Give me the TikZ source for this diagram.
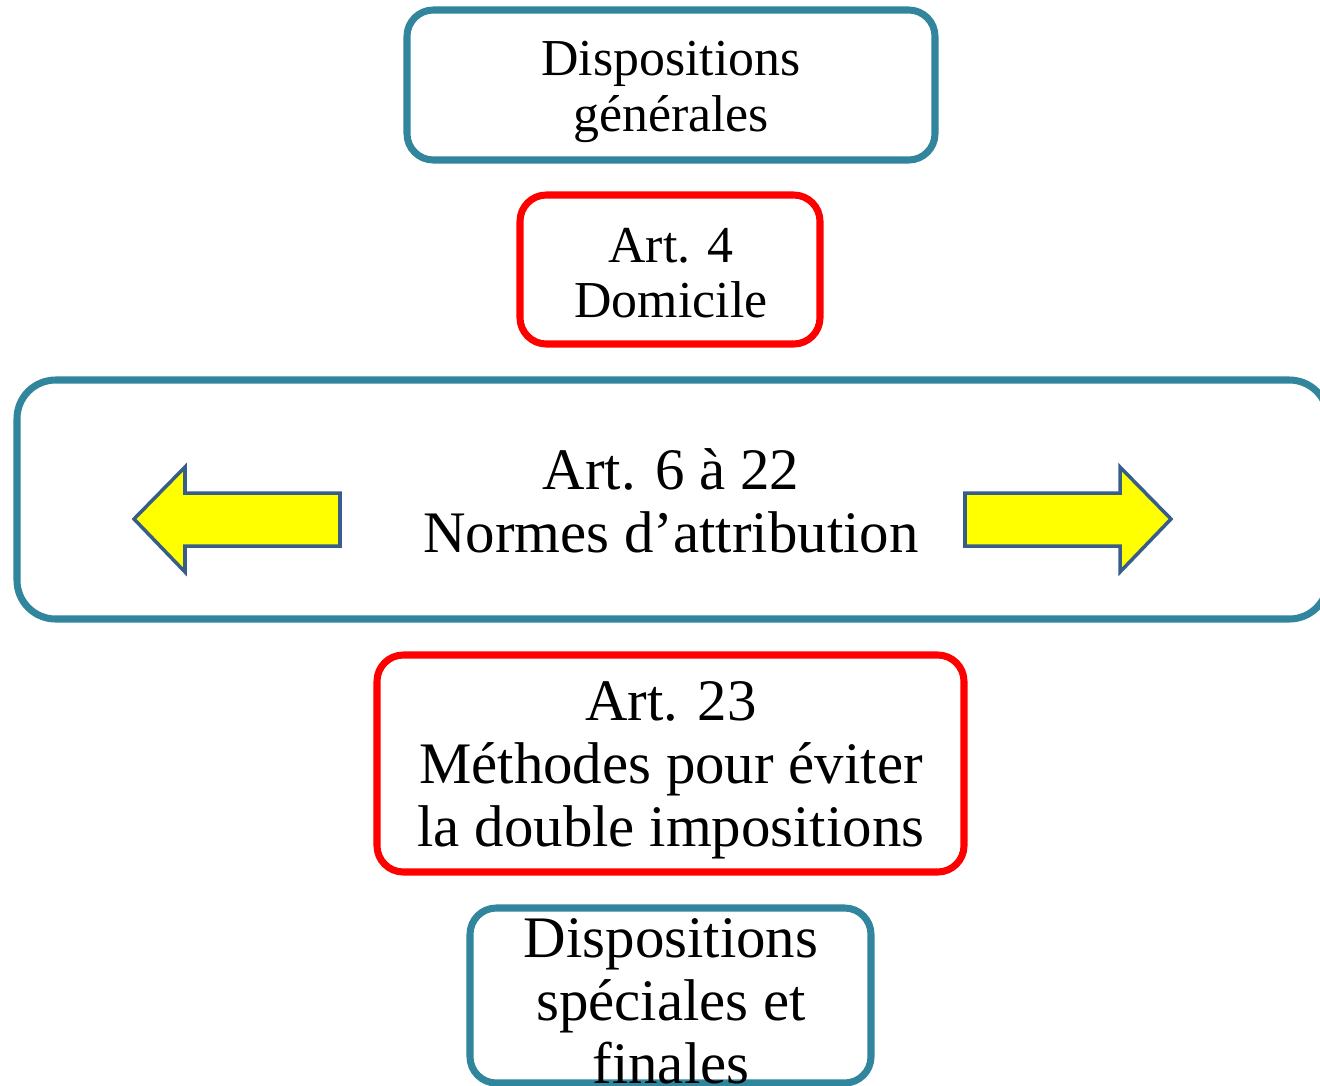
\documentclass[tikz,border=0pt]{standalone}
\usepackage{fontspec}
\setmainfont{Liberation Serif}
\definecolor{teal1}{HTML}{31859C}
\definecolor{red1}{HTML}{FF0000}
\definecolor{arrowedge}{HTML}{385D8A}
\definecolor{arrowfill}{HTML}{FFFF00}
\tikzset{
  boxT/.style={draw=teal1, line width=4pt, rounded corners=15pt},
  boxR/.style={draw=red1, line width=4pt, rounded corners=15pt},
  lbl/.style={align=center, inner sep=0pt, font=\fontsize{33.5}{35.9}\selectfont},
  lbls/.style={align=center, inner sep=0pt, font=\fontsize{29.5}{31.4}\selectfont},
  bigarrow/.style={draw=arrowedge, fill=arrowfill, line width=2pt, line join=miter}
}
\begin{document}
\begin{tikzpicture}[x=0.02cm, y=-0.02cm]
\useasboundingbox (0,0) rectangle (1320,1086);
% boxes
\draw[boxT] (407,10) rectangle (935,160);
\draw[boxR] (520,195) rectangle (820,344);
\draw[boxT, rounded corners=22pt] (17,380) rectangle (1328,619);
\draw[boxR] (377,655) rectangle (964,872);
\draw[boxT] (470,908) rectangle (871,1083);
% texts
\node[lbls] (t1) at (671,92) {Dispositions\\générales};
\node[lbls] (t2) at (671,273) {Art. 4\\Domicile};
\node[lbl] (t3) at (671,501) {Art. 6 à 22\\Normes d’attribution};
\node[lbl] (t4) at (671,770) {Art. 23\\Méthodes pour éviter\\la double impositions};
\node[lbl] (t5) at (671,1001) {Dispositions\\spéciales et\\finales};
% arrows
\draw[bigarrow] (134,519) -- (185,467) -- (185,493) -- (340,493) -- (340,546) -- (185,546) -- (185,572) -- cycle;
\draw[bigarrow] (1171,519) -- (1120,467) -- (1120,493) -- (965,493) -- (965,546) -- (1120,546) -- (1120,572) -- cycle;
\end{tikzpicture}
\end{document}
